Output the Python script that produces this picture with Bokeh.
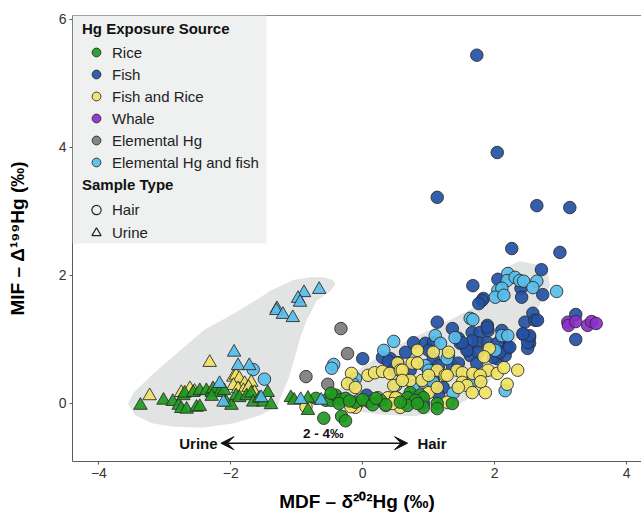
from bokeh.plotting import figure
from bokeh.models import (Range1d, FixedTicker, LinearAxis, Legend, LegendItem,
                          BoxAnnotation, Label, Arrow, VeeHead)
from bokeh.embed import file_html
from bokeh.resources import INLINE

# ---------------- data ----------------
# Hair samples (circles)
fish_hair_x = [1.73, 2.04, 1.13, 2.64, 3.14, 2.26, 2.99, 2.71, 2.05, 2.40, 2.41, 2.73, 1.83, 1.67, 1.81,
               1.76, 2.58, 2.46, 2.61, 2.65, 3.23, 3.23, 1.89, 2.11, 2.43, 2.53, 2.53, 2.20, 2.11, 1.13,
               1.36, 1.66, 1.78, 1.90, 1.45, 1.48, 1.75, 1.89, 0.77, 0.95, 1.07, 1.00, 0.65, 1.30, 1.60,
               1.63, 1.75, 2.04, 2.20, 2.16, 0.53, 1.07, 1.36, 1.73, 0.42, 0.72, 1.15, 1.07, 1.22, 0.77,
               1.15, 0.92, 0.00, 0.30, 0.39, 0.47, 0.06, 1.98, 2.08, 2.23, 2.04, 2.50, 2.50, 2.53, 2.43,
               1.89, 1.66, 1.58, 1.45, 1.51]
fish_hair_y = [5.44, 3.92, 3.22, 3.09, 3.06, 2.42, 2.36, 2.09, 1.94, 1.80, 1.66, 1.70, 1.64, 1.84, 1.61,
               1.56, 1.41, 1.27, 1.30, 1.30, 1.39, 1.00, 1.22, 1.14, 1.08, 1.03, 0.94, 0.88, 1.03, 1.27,
               1.17, 1.11, 1.11, 1.14, 1.02, 0.94, 0.95, 0.95, 0.95, 0.94, 0.95, 0.83, 0.80, 0.75, 0.83,
               0.75, 0.80, 0.70, 0.86, 0.75, 0.64, 0.70, 0.59, 0.63, 0.70, 0.52, 0.59, 0.36, 0.25, 0.13,
               0.13, 0.00, 0.70, 0.72, 0.66, 0.53, 0.13, 0.72, 0.80, 0.88, 0.94, 0.86, 0.95, 1.06, 1.09,
               1.19, 0.98, 0.83, 0.63, 0.95]

ehgfish_hair_x = [-1.66, -1.49, -0.44, -0.47, 0.47, 0.32, -0.11, -0.15, 0.50, 2.13, 2.05, 1.63, 1.67, 1.10,
                  1.18, 1.40, 2.01, 2.11, 0.95, 1.00, 1.37, 1.75, 2.16, 2.20, 2.19, 2.31, 2.38, 2.44, 2.64,
                  2.58, 2.11, 2.01, 2.14, 2.94, 2.20, 1.67, 1.28, 0.77, 0.92, 1.07]
ehgfish_hair_y = [0.53, 0.38, 0.61, 0.55, 0.97, 0.83, 0.39, 0.31, 0.28, 1.69, 1.77, 1.33, 1.31, 1.06,
                  0.94, 1.03, 0.83, 1.06, 0.59, 0.52, 0.16, 0.36, 0.20, 2.03, 1.92, 1.97, 1.92, 1.91, 1.91,
                  1.81, 1.80, 1.66, 1.69, 1.75, 1.06, 0.36, 0.70, 0.28, 0.33, 0.33]

fishrice_hair_x = [-0.17, 0.08, 0.18, 0.30, 0.41, -0.23, -0.11, 0.53, 0.23, 0.38, -0.15, -0.08, -0.11, -0.18,
                   0.53, -0.86, 0.83, 1.07, 1.30, 0.75, 0.83, 0.57, 0.62, 0.72, 0.90, 1.13, 1.25, 1.43,
                   1.51, 1.67, 1.90, 2.04, 1.51, 1.58, 1.00, 1.13, 1.45, 1.66, 1.86, 0.57, 0.50, 1.28,
                   2.14, 2.35, 2.19, 1.78, 1.79, 1.92, 1.84, 0.60, 1.00, 1.28, 0.47, 0.60, 0.50, -0.06,
                   0.35, 0.45, 0.65]
fishrice_hair_y = [0.47, 0.44, 0.48, 0.50, 0.47, 0.31, 0.25, 0.63, 0.09, 0.09, -0.03, 0.00, -0.06, -0.05,
                   0.08, -0.05, 0.83, 0.80, 0.80, 0.63, 0.63, 0.52, 0.41, 0.36, 0.36, 0.52, 0.44, 0.52,
                   0.48, 0.47, 0.52, 0.47, 0.33, 0.28, 0.17, 0.25, 0.25, 0.17, 0.17, -0.06, 0.05, 0.02,
                   0.56, 0.52, 0.30, 0.44, 0.34, 0.86, 0.73, 0.52, 0.44, 0.44, 0.28, 0.36, 0.09, 0.05,
                   -0.03, 0.00, 0.02]

ehg_hair_x = [-0.33, -0.23, -0.86, -0.53]
ehg_hair_y = [1.17, 0.78, 0.42, 0.30]

rice_hair_x = [-0.71, -0.56, -0.48, -0.41, -0.33, -0.26, -0.36, 0.09, 0.27, -0.59, -0.32, -0.26, -0.48,
               -0.11, 0.00, 0.15, 0.35, 0.72, 0.68, 0.87, 0.92, 1.13, 1.36, 0.80, 0.68, 1.13, 0.92, 0.83,
               0.57, -0.20, 0.20]
rice_hair_y = [0.08, 0.05, 0.05, 0.13, 0.06, 0.08, 0.00, 0.03, 0.05, -0.23, -0.20, -0.27, 0.16,
               0.02, 0.06, -0.02, -0.02, 0.17, 0.09, 0.13, 0.09, 0.00, 0.00, 0.05, -0.03, -0.08, -0.06, 0.00,
               0.02, 0.04, 0.08]

whale_hair_x = [3.11, 3.12, 3.23, 3.41, 3.47, 3.54]
whale_hair_y = [1.27, 1.22, 1.28, 1.22, 1.28, 1.25]

# Urine samples (triangles)
rice_urine_x = [-3.37, -3.02, -2.88, -2.79, -2.75, -2.67, -2.52, -2.47, -2.72, -2.70, -2.57, -2.47, -2.37,
                -2.29, -2.27, -2.17, -2.10, -2.29, -2.07, -1.99, -1.92, -1.87, -1.76, -1.69, -1.66, -1.57,
                -1.51, -1.44, -1.39, -1.09, -1.04, -0.83, -0.83]
rice_urine_y = [-0.03, 0.05, 0.03, -0.03, -0.08, -0.09, -0.06, -0.05, 0.12, 0.16, 0.17, 0.20, 0.20,
                0.17, 0.23, 0.17, 0.20, 0.11, 0.02, -0.03, 0.12, 0.09, 0.12, 0.16, 0.02, 0.08,
                0.02, 0.17, -0.02, 0.09, 0.05, 0.08, -0.11]

fishrice_urine_x = [-3.23, -2.32, -2.75, -2.62, -2.55, -1.96, -1.92, -1.87, -1.79, -1.69, -1.96, -1.89,
                    -1.81, -1.73, -1.64]
fishrice_urine_y = [0.12, 0.64, 0.17, 0.23, 0.19, 0.41, 0.44, 0.39, 0.31, 0.33, 0.28, 0.23,
                    0.20, 0.25, 0.17]

ehgfish_urine_x = [-1.95, -1.89, -1.72, -2.17, -2.11, -1.54, -0.94, -0.63, -0.66, -0.89, -0.98, -0.95,
                   -1.30, -1.31, -1.21, -1.06]
ehgfish_urine_y = [0.80, 0.59, 0.59, 0.31, 0.02, 0.09, 0.06, 0.05, 1.78, 1.73, 1.64, 1.58,
                   1.48, 1.45, 1.39, 1.34]

# shaded sample-type envelopes (outline vertices)
urine_shape_x = [-3.56, -3.45, -3.20, -2.90, -2.44, -1.95, -1.55, -1.30, -1.22, -1.12, -1.03, -0.95, -0.85,
                 -0.70, -0.50, -0.41, -0.45, -0.60, -0.80, -1.05, -1.40, -1.70, -2.00, -2.40, -2.80, -3.20, -3.47]
urine_shape_y = [0.00, -0.18, -0.31, -0.36, -0.38, -0.31, -0.18, -0.05, 0.15, 0.40, 0.72, 1.02, 1.30,
                 1.60, 1.75, 1.86, 1.93, 1.97, 1.97, 1.93, 1.76, 1.56, 1.38, 1.15, 0.80, 0.44, 0.17]
hair_shape_x = [-0.48, -0.26, -0.03, 0.42, 0.92, 1.43, 1.78, 2.04, 2.20, 2.38, 2.64, 2.81, 2.84, 2.68,
                2.46, 2.23, 2.01, 1.70, 1.28, 0.77, 0.27, -0.18]
hair_shape_y = [0.05, 0.36, 0.55, 0.85, 1.10, 1.36, 1.55, 1.84, 2.14, 2.22, 2.17, 2.03, 1.83, 1.53,
                1.22, 0.83, 0.44, 0.13, -0.11, -0.20, -0.17, -0.11]

x_ticks = [-4, -2, 0, 2, 4]
y_ticks = [0, 2, 4, 6]

# ---------------- styling ----------------
FONT = "Liberation Sans"
C_RICE = "#1f9a1f"
C_FISH = "#2351a6"
C_FR = "#f0e264"
C_WHALE = "#8c2ec9"
C_EHG = "#7c7c7a"
C_EHGF = "#57bdea"
EDGE = "#2e2e2e"

p = figure(width=641, height=514, x_range=Range1d(-4.40, 4.227), y_range=Range1d(-0.906, 6.06),
           output_backend="svg", toolbar_location=None,
           min_border_left=72, min_border_top=15, min_border_right=0, min_border_bottom=53)
p.outline_line_color = None
p.xgrid.visible = False
p.ygrid.visible = False
p.background_fill_color = "white"

for ax in (p.xaxis[0], p.yaxis[0]):
    ax.axis_line_color = "#5a5a5a"
    ax.major_tick_line_color = "#5a5a5a"
    ax.minor_tick_line_color = None
    ax.major_tick_out = 3
    ax.major_tick_in = 0
    ax.major_label_text_font = FONT
    ax.major_label_text_font_size = "14px"
    ax.major_label_text_color = "#333333"
    ax.major_label_standoff = 3
    ax.axis_label_text_font = FONT
    ax.axis_label_text_font_size = "19px"
    ax.axis_label_text_font_style = "bold"
    ax.axis_label_text_color = "black"

p.xaxis[0].ticker = FixedTicker(ticks=x_ticks)
p.xaxis[0].major_label_overrides = {-4: "\u22124", -2: "\u22122"}
p.xaxis[0].axis_label = "MDF \u2013 \u03b4\u00b2\u2070\u00b2Hg (\u2030)"
p.xaxis[0].axis_label_standoff = 10
p.yaxis[0].ticker = FixedTicker(ticks=y_ticks)
p.yaxis[0].axis_label = "MIF \u2013 \u0394\u00b9\u2079\u2079Hg (\u2030)"
p.yaxis[0].axis_label_standoff = 28

top_axis = LinearAxis(ticker=FixedTicker(ticks=[]), axis_line_color="#8a8a8a",
                      major_tick_line_color=None, minor_tick_line_color=None,
                      major_label_text_font_size="0px", major_label_standoff=0)
p.add_layout(top_axis, "above")

# envelopes
p.patch(urine_shape_x, urine_shape_y, fill_color="#e2e3e3", line_color=None)
p.patch(hair_shape_x, hair_shape_y, fill_color="#e2e3e3", line_color=None)

def hair(xs, ys, color):
    return p.scatter(xs, ys, marker="circle", size=12.5, fill_color=color, fill_alpha=0.92,
                     line_color=EDGE, line_width=0.9)

def urine(xs, ys, color):
    return p.scatter(xs, ys, marker="triangle", size=13.5, fill_color=color, fill_alpha=0.92,
                     line_color=EDGE, line_width=0.9)

r_fish = hair(fish_hair_x, fish_hair_y, C_FISH)
r_ehgf = hair(ehgfish_hair_x, ehgfish_hair_y, C_EHGF)
r_fr = hair(fishrice_hair_x, fishrice_hair_y, C_FR)
r_ehg = hair(ehg_hair_x, ehg_hair_y, C_EHG)
r_rice = hair(rice_hair_x, rice_hair_y, C_RICE)
r_whale = hair(whale_hair_x, whale_hair_y, C_WHALE)
urine(fishrice_urine_x, fishrice_urine_y, C_FR)
r_urine = urine(rice_urine_x, rice_urine_y, C_RICE)
urine(ehgfish_urine_x, ehgfish_urine_y, C_EHGF)

# sample-type keys (hidden renderers, used only for the legend glyphs)
r_hair_key = p.scatter(fish_hair_x[:1], fish_hair_y[:1], marker="circle", size=12.5,
                       fill_alpha=0, line_color="#222222", line_width=1.2, visible=False)
r_urine_key = p.scatter(rice_urine_x[:1], rice_urine_y[:1], marker="triangle", size=13.5,
                        fill_alpha=0, line_color="#222222", line_width=1.2, visible=False)

# legend background
p.add_layout(BoxAnnotation(right=-1.46, bottom=2.5, fill_color="#eff0f0", fill_alpha=1.0,
                           line_color=None, level="annotation"))

def make_legend(title, items, loc, h, standoff):
    return Legend(items=items, title=title, location=loc, orientation="vertical",
                  title_text_font=FONT, title_text_font_style="bold", title_text_font_size="15px",
                  title_text_color="#111111", title_standoff=standoff,
                  label_text_font=FONT, label_text_font_size="15px", label_text_color="#222222",
                  glyph_height=h, glyph_width=28, label_height=h, label_standoff=2,
                  spacing=0, padding=5, margin=0, inactive_fill_alpha=0,
                  background_fill_alpha=0, border_line_alpha=0)

leg1 = make_legend("Hg Exposure Source", [
    LegendItem(label="Rice", renderers=[r_rice]),
    LegendItem(label="Fish", renderers=[r_fish]),
    LegendItem(label="Fish and Rice", renderers=[r_fr]),
    LegendItem(label="Whale", renderers=[r_whale]),
    LegendItem(label="Elemental Hg", renderers=[r_ehg]),
    LegendItem(label="Elemental Hg and fish", renderers=[r_ehgf]),
], (5, 283), 22, 4)
leg2 = make_legend("Sample Type", [
    LegendItem(label="Hair", renderers=[r_hair_key]),
    LegendItem(label="Urine", renderers=[r_urine_key]),
], (5, 212), 23, 5)
p.add_layout(leg1, "center")
p.add_layout(leg2, "center")

# annotation arrow
p.add_layout(Arrow(x_start=-2.15, y_start=-0.62, x_end=0.68, y_end=-0.62, line_width=1.5,
                   line_color="#111111",
                   start=VeeHead(size=13, fill_color="#111111", line_color="#111111"),
                   end=VeeHead(size=13, fill_color="#111111", line_color="#111111")))
p.add_layout(Label(x=-2.2, y=-0.62, text="Urine", text_align="right", text_baseline="middle",
                   text_font=FONT, text_font_size="15px", text_font_style="bold", text_color="#111111"))
p.add_layout(Label(x=0.83, y=-0.62, text="Hair", text_align="left", text_baseline="middle",
                   text_font=FONT, text_font_size="15px", text_font_style="bold", text_color="#111111"))
p.add_layout(Label(x=-0.6, y=-0.47, text="2 - 4\u2030", text_align="center", text_baseline="middle",
                   text_font=FONT, text_font_size="13.5px", text_font_style="bold", text_color="#111111"))

open("out.html", "w").write(file_html(p, INLINE))
